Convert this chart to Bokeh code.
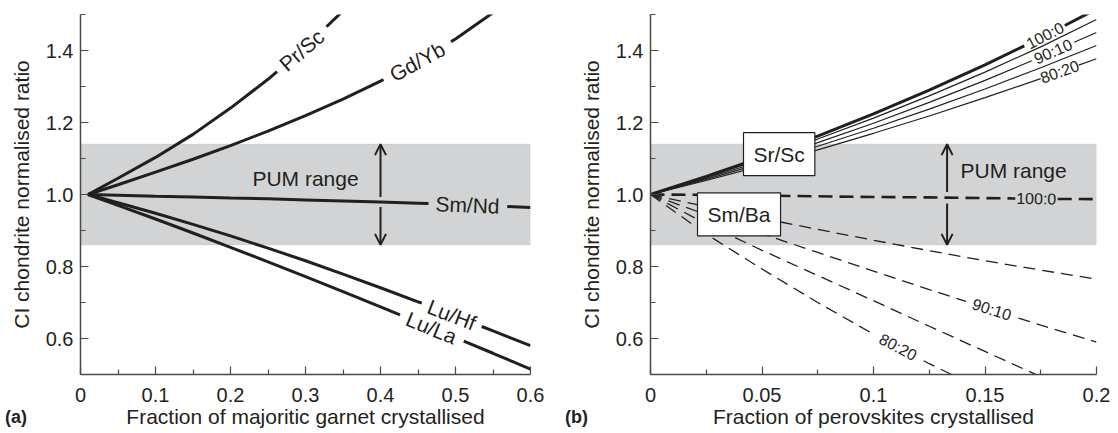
import math
import numpy as np
from bokeh.plotting import figure
from bokeh.layouts import row
from bokeh.models import FixedTicker, BoxAnnotation, Label, Arrow, OpenHead, Div
from bokeh.embed import file_html
from bokeh.resources import INLINE

# ---------------- data ----------------
# (a) majoritic garnet fractionation
garnet_x = [0.01, 0.05, 0.1, 0.15, 0.2, 0.25, 0.3, 0.35, 0.4, 0.45, 0.5, 0.55, 0.6]
pr_sc = [1.0, 1.045, 1.103, 1.167, 1.24, 1.32, 1.41, 1.51]
gd_yb = [1.0, 1.027, 1.062, 1.098, 1.136, 1.176, 1.219, 1.265, 1.315, 1.37, 1.432, 1.505]
sm_nd = [1.0, 0.998, 0.995, 0.993, 0.99, 0.988, 0.985, 0.982, 0.979, 0.976, 0.972, 0.968, 0.964]
lu_hf = [1.0, 0.977, 0.948, 0.917, 0.885, 0.851, 0.816, 0.779, 0.741, 0.702, 0.662, 0.621, 0.58]
lu_la = [1.0, 0.97, 0.932, 0.893, 0.853, 0.813, 0.772, 0.73, 0.688, 0.645, 0.602, 0.559, 0.515]

# (b) perovskite fractionation, Ca-Pv : Mg-Pv proportions
perov_x = [0, 0.025, 0.05, 0.075, 0.1, 0.125, 0.15, 0.175, 0.2]
sr_sc_100_0 = [1.0, 1.05, 1.104, 1.162, 1.224, 1.29, 1.36, 1.435, 1.515]
sr_sc_95_5 = [1.0, 1.048, 1.099, 1.154, 1.212, 1.274, 1.34, 1.41, 1.486]
sr_sc_90_10 = [1.0, 1.045, 1.093, 1.144, 1.198, 1.256, 1.317, 1.382, 1.45]
sr_sc_85_15 = [1.0, 1.042, 1.087, 1.134, 1.184, 1.237, 1.293, 1.352, 1.414]
sr_sc_80_20 = [1.0, 1.039, 1.08, 1.124, 1.17, 1.218, 1.269, 1.322, 1.377]
sm_ba_100_0 = [1.0, 0.999, 0.997, 0.995, 0.993, 0.992, 0.990, 0.988, 0.987]
sm_ba_95_5 = [1.0, 0.966, 0.934, 0.903, 0.873, 0.844, 0.816, 0.79, 0.765]
sm_ba_90_10 = [1.0, 0.944, 0.891, 0.839, 0.787, 0.736, 0.686, 0.637, 0.59]
sm_ba_85_15 = [1.0, 0.918, 0.845, 0.775, 0.705, 0.634, 0.564, 0.494, 0.425]
sm_ba_80_20 = [1.0, 0.89, 0.793, 0.70, 0.612, 0.53, 0.455]

pum_low, pum_high = 0.86, 1.14

y_ticks = [0.6, 0.8, 1.0, 1.2, 1.4]
y_tick_labels = ["0.6", "0.8", "1.0", "1.2", "1.4"]
y_minor = [0.5, 0.7, 0.9, 1.1, 1.3, 1.5]
xa_ticks = [0, 0.1, 0.2, 0.3, 0.4, 0.5, 0.6]
xa_tick_labels = ["0", "0.1", "0.2", "0.3", "0.4", "0.5", "0.6"]
xa_minor = [0.05, 0.15, 0.25, 0.35, 0.45, 0.55]
xb_ticks = [0, 0.05, 0.1, 0.15, 0.2]
xb_tick_labels = ["0", "0.05", "0.1", "0.15", "0.2"]
xb_minor = [0.025, 0.075, 0.125, 0.175]

# ---------------- style ----------------
INK = "#231f20"
AXIS = "#4a4a4a"
BAND = "#d1d3d4"
FONT = "Liberation Sans"
FRAME_H = 360


def broken(xs, ys, gaps):
    """Curve with breaks over the x-intervals in gaps (room for a label)."""
    xs = np.asarray(xs, float)
    ys = np.asarray(ys, float)
    edges = [e for g in gaps for e in g]
    xx = np.union1d(xs, edges)
    yy = np.interp(xx, xs, ys)
    ox, oy = [], []
    for x, y in zip(xx, yy):
        if any(a < x < b for a, b in gaps):
            continue
        ox.append(x)
        oy.append(y)
        if any(np.isclose(x, a) for a, b in gaps):
            ox.append(np.nan)
            oy.append(np.nan)
    return ox, oy


def on_curve_label(p, xs, ys, x0, text, sx, sy, size="21px"):
    """Text centred on a curve, turned to follow its slope on screen."""
    xs = np.asarray(xs, float)
    ys = np.asarray(ys, float)
    h = 0.004 * (xs[-1] - xs[0])
    y0 = float(np.interp(x0, xs, ys))
    dy = np.interp(x0 + h, xs, ys) - np.interp(x0 - h, xs, ys)
    ang = math.atan2(dy * sy, 2 * h * sx)
    p.add_layout(Label(x=x0, y=y0, text=text, angle=ang, text_align="center",
                       text_baseline="middle", text_font=FONT, text_font_size=size,
                       text_color=INK))


def make_panel(x_end, frame_w, border_l, border_r, ticks, tick_labels, minor, xlabel):
    p = figure(frame_width=frame_w, frame_height=FRAME_H,
               min_border_left=border_l, min_border_right=border_r,
               min_border_top=14, min_border_bottom=59,
               x_range=(0, x_end), y_range=(0.5, 1.5),
               output_backend="svg", toolbar_location=None,
               background_fill_color="white", border_fill_color="white")
    p.outline_line_color = None
    p.grid.visible = False
    p.xaxis.ticker = FixedTicker(ticks=ticks, minor_ticks=minor)
    p.xaxis.major_label_overrides = dict(zip(ticks, tick_labels))
    p.yaxis.ticker = FixedTicker(ticks=y_ticks, minor_ticks=y_minor)
    p.yaxis.major_label_overrides = dict(zip(y_ticks, y_tick_labels))
    p.xaxis.axis_label = xlabel
    p.yaxis.axis_label = "CI chondrite normalised ratio"
    for ax in (p.xaxis[0], p.yaxis[0]):
        ax.axis_line_color = AXIS
        ax.axis_line_width = 1.5
        ax.major_tick_line_color = AXIS
        ax.minor_tick_line_color = AXIS
        ax.major_tick_line_width = 1.2
        ax.minor_tick_line_width = 1.2
        ax.major_tick_in = 8
        ax.major_tick_out = 0
        ax.minor_tick_in = 5
        ax.minor_tick_out = 0
        ax.major_label_text_font = FONT
        ax.major_label_text_font_size = "20px"
        ax.major_label_text_color = INK
        ax.axis_label_text_font = FONT
        ax.axis_label_text_font_style = "normal"
        ax.axis_label_text_color = INK
        ax.axis_label_text_font_size = "21px"
    p.xaxis.major_label_standoff = 13
    p.xaxis.axis_label_standoff = 0
    p.yaxis.major_label_standoff = 7
    p.yaxis.axis_label_standoff = 10
    p.add_layout(BoxAnnotation(bottom=pum_low, top=pum_high, fill_color=BAND,
                               fill_alpha=1, line_color="#bfc1c3", line_width=1,
                               level="underlay"))
    return p


def pum_arrow(p, x, gap_lo, gap_hi):
    for y0, y1 in ((gap_hi, pum_high), (gap_lo, pum_low)):
        p.add_layout(Arrow(x_start=x, y_start=y0, x_end=x, y_end=y1,
                           line_color=INK, line_width=2,
                           end=OpenHead(size=11, line_color=INK, line_width=2)))


# ---------------- (a) ----------------
BLA, FWA, BRA = 80, 450, 30
pa = make_panel(0.6, FWA, BLA, BRA, xa_ticks, xa_tick_labels, xa_minor,
                "Fraction of majoritic garnet crystallised")
sxa, sya = FWA / 0.6, FRAME_H / 1.0

curves_a = [
    (pr_sc, "Pr/Sc", (0.262, 0.328), 0.295),
    (gd_yb, "Gd/Yb", (0.404, 0.494), 0.449),
    (sm_nd, "Sm/Nd", (0.464, 0.569), 0.516),
    (lu_hf, "Lu/Hf", (0.455, 0.535), 0.495),
    (lu_la, "Lu/La", (0.426, 0.511), 0.468),
]
for ys, name, gap, lx in curves_a:
    xs = garnet_x[:len(ys)]
    bx, by = broken(xs, ys, [gap])
    pa.line(bx, by, line_color=INK, line_width=3)
    on_curve_label(pa, xs, ys, lx, name, sxa, sya)

pa.add_layout(Label(x=0.3, y=1.044, text="PUM range", text_align="center",
                    text_baseline="middle", text_font=FONT, text_font_size="21px",
                    text_color=INK))
pum_arrow(pa, 0.4, 0.965, 0.993)

# ---------------- (b) ----------------
BLB, FWB, BRB = 90, 446, 22
pb = make_panel(0.2, FWB, BLB, BRB, xb_ticks, xb_tick_labels, xb_minor,
                "Fraction of perovskites crystallised")
sxb, syb = FWB / 0.2, FRAME_H / 1.0

# Sm/Ba, dashed
dashed = [
    (sm_ba_100_0, "100:0", (0.1636, 0.1826), 0.173, 2.6, "14 7"),
    (sm_ba_95_5, None, None, None, 1.3, "12 7"),
    (sm_ba_90_10, "90:10", (0.1415, 0.165), 0.153, 1.3, "12 7"),
    (sm_ba_85_15, None, None, None, 1.3, "12 7"),
    (sm_ba_80_20, "80:20", (0.1, 0.1225), 0.111, 1.3, "12 7"),
]
for ys, name, gap, lx, lw, dash in dashed:
    xs = perov_x[:len(ys)]
    if gap:
        bx, by = broken(xs, ys, [gap])
    else:
        bx, by = xs, ys
    pb.line(bx, by, line_color=INK, line_width=lw, line_dash=dash)
    if name:
        on_curve_label(pb, xs, ys, lx, name, sxb, syb, size="16px")

# Sr/Sc, solid
solid = [
    (sr_sc_100_0, "100:0", (0.1676, 0.1858), 0.177, 3.0),
    (sr_sc_95_5, None, None, None, 1.2),
    (sr_sc_90_10, "90:10", (0.171, 0.19), 0.1805, 1.2),
    (sr_sc_85_15, None, None, None, 1.2),
    (sr_sc_80_20, "80:20", (0.175, 0.192), 0.1835, 1.2),
]
for ys, name, gap, lx, lw in solid:
    xs = perov_x[:len(ys)]
    if gap:
        bx, by = broken(xs, ys, [gap])
    else:
        bx, by = xs, ys
    pb.line(bx, by, line_color=INK, line_width=lw)
    if name:
        on_curve_label(pb, xs, ys, lx, name, sxb, syb, size="16px")


def boxed(p, x, y, text):
    common = dict(x=x, y=y, text=text, text_align="center", text_baseline="middle",
                  text_font=FONT, text_font_size="21px", padding=10)
    p.add_layout(Label(x_offset=2.5, y_offset=-2.5, text_alpha=0,
                       background_fill_color=INK, background_fill_alpha=1, **common))
    p.add_layout(Label(text_color=INK, background_fill_color="white",
                       background_fill_alpha=1, border_line_color=INK,
                       border_line_width=1.2, **common))


boxed(pb, 0.0577, 1.112, "Sr/Sc")
boxed(pb, 0.0397, 0.945, "Sm/Ba")

pb.add_layout(Label(x=0.139, y=1.067, text="PUM range", text_align="left",
                    text_baseline="middle", text_font=FONT, text_font_size="21px",
                    text_color=INK))
pum_arrow(pb, 0.133, 0.975, 1.007)


# ---------------- panel tags, laid over the bottom-left corners ----------------
def panel_tag(text, left):
    return Div(text=text, width=40, height=22,
               styles={"position": "absolute", "left": f"{left}px", "top": "407px",
                       "margin": "0", "padding": "0", "z-index": "10",
                       "font-family": FONT, "font-size": "18px", "font-weight": "bold",
                       "line-height": "20px", "color": INK, "white-space": "nowrap"})


W_A = BLA + FWA + BRA
layout = row(pa, pb, panel_tag("(a)", 5), panel_tag("(b)", W_A + 5), spacing=0)
open("out.html", "w").write(file_html(layout, INLINE))
